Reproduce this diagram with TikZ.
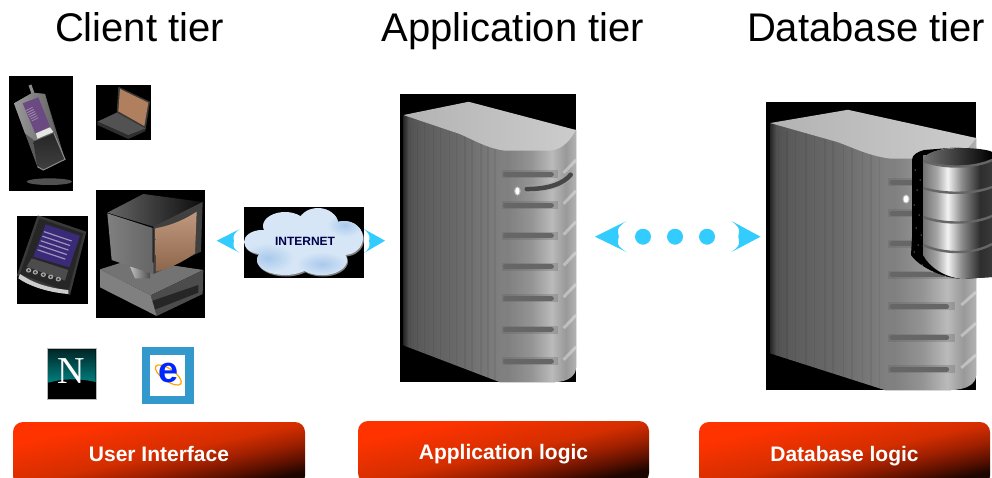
\documentclass[tikz,border=0pt]{standalone}
\usepackage{fontspec}
\setmainfont{Liberation Sans}
\newfontfamily\serifN{Liberation Serif}
\definecolor{rA}{HTML}{FF3300}
\definecolor{rB}{HTML}{D42E00}
\definecolor{rC}{HTML}{A02000}
\definecolor{rE}{HTML}{5A1000}
\definecolor{rD}{HTML}{1E0600}
\pgfdeclarehorizontalshading{redgrad}{100bp}{color(0bp)=(rA); color(30bp)=(rA); color(50bp)=(rB); color(58.5bp)=(rC); color(67bp)=(rE); color(73bp)=(rD); color(100bp)=(rD)}
\pgfdeclarehorizontalshading{srvbody}{100bp}{color(0bp)=(black!85); color(25bp)=(black!85); color(26.5bp)=(black!68); color(30bp)=(black!64); color(42bp)=(black!58); color(53bp)=(black!50); color(55bp)=(black!50); color(62bp)=(black!42); color(68bp)=(black!27); color(72bp)=(black!40); color(75bp)=(black!30); color(100bp)=(black!30)}
\pgfdeclarehorizontalshading{cylgrad}{100bp}{color(0bp)=(black!55); color(25bp)=(black!55); color(34bp)=(black!35); color(41bp)=(black!5); color(50bp)=(black!45); color(62bp)=(black!82); color(75bp)=(black!75); color(100bp)=(black!75)}
\definecolor{arrowblue}{HTML}{33CCFF}
\definecolor{tanscreen}{HTML}{B07F5E}
\definecolor{cloudbase}{HTML}{D6E6F6}
\definecolor{cloudblot}{HTML}{A9C9EC}
\definecolor{ieblue}{HTML}{3399CC}
\definecolor{pdascreen}{HTML}{3B2A78}
\definecolor{phonescreen}{HTML}{6A4A80}
\tikzset{
  tierhead/.style={font=\fontsize{40}{44}\selectfont,inner sep=0pt,anchor=base},
  redbox/.style={draw=none,rounded corners=10pt,shading=redgrad,shading angle=-78,minimum height=64pt,text=white,font=\fontsize{21}{24}\bfseries\selectfont,inner sep=0pt,text height=14pt,text depth=0pt},
  blackbg/.style={fill=black,draw=none},
  flowtip/.style={fill=arrowblue,draw=none},
  zoomone/.style={shift={(0,70)},x=.33333pt,y=-.33333pt}
}
\newcommand{\serverbody}[5]{%
\fill[black] (#1,#2) rectangle ++(#3,#4);
\begin{scope}
\clip (#1,#2) rectangle ++(#3,#4);
\begin{scope}[shift={(#1,#2)},x=#3pt,y=-#4pt]
\fill[shading=srvbody,shading angle=0] (.02,.073) -- (.02,.873) -- (.565,1) -- (.88,1) .. controls (.95,1) and (1,.98) .. (1,.95) -- (1,.125) -- cycle;
\foreach \u in {.06,.1,.14,.19,.23,.28,.32,.37,.41,.46,.5,.54}{\draw[black,opacity=.06,line width=1.5pt] (\u,.1) -- (\u,1);}
\shade[left color=black!30,right color=black!20] (.02,.073) -- (.39,.027) -- (1,.125) .. controls (.95,.18) and (.9,.197) .. (.83,.197) -- (.6,.197) .. controls (.5,.19) and (.42,.16) .. (.34,.139) -- cycle;
\foreach \v in {.279,.386,.493,.60,.71,.818,.928}{%
  \draw[black!62,line width=8pt,opacity=.3] (.58,\v) -- (.9,\v);
  \draw[black!60,line width=5pt,line cap=round] (.6,\v) -- (.86,\v);
  \draw[white,line width=3pt,opacity=.35] (.93,\v-.005) -- (1,\v-.05);
}
\draw[white,opacity=.4,line width=3pt] (.667,.337) circle[radius=.01];
\fill[white] (.667,.337) circle[radius=.012];
#5
\end{scope}
\end{scope}}
\begin{document}
\begin{tikzpicture}[x=1pt,y=-1pt]
\useasboundingbox (0,0) rectangle (992,477);
\clip (0,0) rectangle (992,477);
% headings
\node[tierhead] (hclient) at (139.5,41) {Client tier};
\node[tierhead] (happ) at (513,41) {Application tier};
\node[tierhead] (hdb) at (866,41) {Database tier};
% servers
\serverbody{400}{94}{176}{288}{\draw[black!35,line width=7pt,opacity=.5] (.72,.33) .. controls (.85,.33) and (.93,.31) .. (.97,.28);\draw[black!72,line width=4.5pt,line cap=round] (.72,.33) .. controls (.85,.33) and (.93,.31) .. (.97,.28);}
\serverbody{766}{102}{210}{288}{}
% cylinder
\fill[black] (924,150) .. controls (917,152) and (912,155) .. (912,160) -- (912,237) -- (911,255) .. controls (920,268) and (945,279) .. (965,279) -- (923,255) -- (923,160) .. controls (930,150) and (945,148) .. (962,147) -- cycle;
\foreach \p/\q in {915/170,917/190,914/205,919/215,916/228,918/245,914/252,922/265,932/272,945/276,920/180,921/235}{\fill[white] (\p,\q) circle[radius=.5];}
\begin{scope}
\clip (923,155) -- (923,255) .. controls (930,268) and (945,277) .. (962,279) -- (992,277) -- (992,155) -- cycle;
\fill[shading=cylgrad,shading angle=0] (923,150) rectangle (1000,285);
\end{scope}
\shade[left color=black!55,right color=black!100] (923,160) .. controls (925,151) and (945,148) .. (962,148) .. controls (975,148) and (990,150) .. (992,152) -- (992,160) .. controls (975,168) and (938,170) .. (923,160) -- cycle;
\foreach \a/\b in {161/167,188/193,217/223,245/253}{\draw[black!60,line width=2.4pt] (923,\a) .. controls (945,\b+2) and (975,\b+1) .. (992,\a-1);}
% central arrows and dots
\fill[flowtip] (595,236.7) -- (626.5,221) .. controls (620,225) and (617,229) .. (618,232) .. controls (619,235) and (619,238) .. (618,241) .. controls (617,245) and (620,248) .. (626.5,252) -- cycle;
\fill[flowtip] (760.5,236.7) -- (731.5,221) .. controls (737,225) and (740,229) .. (739,232) .. controls (738,235) and (738,238) .. (739,241) .. controls (740,245) and (737,248) .. (731.5,252) -- cycle;
\fill[arrowblue] (643,236.7) circle[radius=8];
\fill[arrowblue] (675,236.7) circle[radius=8];
\fill[arrowblue] (707,236.7) circle[radius=8];
% small arrows
\fill[flowtip] (216.7,240.7) -- (239.3,229.3) .. controls (235,232) and (233,236) .. (233.5,238) .. controls (234,240) and (234,242) .. (233.5,244) .. controls (233,247) and (235,250) .. (239.3,252.7) -- cycle;
\fill[flowtip] (385,240.7) -- (364,229) .. controls (368,232) and (370,236) .. (369.5,238) .. controls (369,240) and (369,242) .. (369.5,244) .. controls (370,247) and (368,250) .. (364,253) -- cycle;
% cloud
\fill[blackbg] (244,207) rectangle (364,278);
\def\cloudpath{(262,242) ellipse[x radius=18,y radius=12] (285,226) ellipse[x radius=22,y radius=14] (318,224) ellipse[x radius=20,y radius=16] (344,238) ellipse[x radius=19,y radius=17] (322,260) ellipse[x radius=25,y radius=15] (285,260) ellipse[x radius=28,y radius=15] (305,240) ellipse[x radius=40,y radius=22]}
\fill[black!50,shift={(1,1.5)}] \cloudpath;
\begin{scope}
\clip \cloudpath;
\fill[cloudbase] (244,207) rectangle (364,278);
\shade[inner color=cloudblot,outer color=cloudbase] (268,258) ellipse[x radius=26,y radius=15];
\shade[inner color=cloudblot,outer color=cloudbase] (322,264) ellipse[x radius=26,y radius=12];
\shade[inner color=cloudblot,outer color=cloudbase] (345,225) ellipse[x radius=18,y radius=12];
\end{scope}
\node[font=\fontsize{12}{13}\bfseries\selectfont,text=blue!30!black,inner sep=0pt] (inet) at (305,241.5) {INTERNET};
% client devices, in zoom-one coordinates
\begin{scope}[zoomone]
% phone
\fill[blackbg] (27,18) rectangle (219,362);
\draw[black!45,line width=3pt] (90,45) -- (104,85);
\fill[black!65] (42,100) -- (98,68) -- (135,72) -- (195,268) -- (130,300) -- (112,290) -- cycle;
\shade[left color=black!40,right color=black!60] (42,100) -- (98,68) -- (135,72) -- (165,185) -- (105,212) -- (75,190) -- cycle;
\shade[top color=black!85,bottom color=black!75] (100,215) -- (162,190) -- (195,268) -- (130,300) -- (112,290) -- cycle;
\draw[black!45,line width=1pt] (162,190) -- (195,268) -- (130,300) -- (112,290);
\fill[phonescreen] (68,100) -- (115,82) -- (150,170) -- (106,190) -- cycle;
\foreach \t in {0,.1,.2,.3,.4,.5}{\draw[white,opacity=.35,line width=.8pt] (78+\t*34,122+\t*62) -- (98+\t*34,112+\t*62);}
\fill[black!10] (108,190) -- (150,172) -- (160,186) -- (112,206) -- cycle;
\fill[black!60,opacity=.8] (148,335) ellipse[x radius=68,y radius=10];
% laptop
\fill[blackbg] (288,45) rectangle (453,210);
\fill[black!78] (355,50) -- (450,95) -- (437,178) -- (350,130) -- cycle;
\fill[tanscreen] (360,57) -- (445,98) -- (433,168) -- (355,124) -- cycle;
\fill[black!68] (292,155) -- (350,128) -- (437,176) -- (385,196) -- cycle;
\fill[black!82] (292,155) -- (385,196) -- (437,176) -- (435,184) -- (385,207) -- (292,165) -- cycle;
% pda
\fill[blackbg] (51,438) rectangle (264,702);
\draw[black!55,line width=5pt,opacity=.5] (118,445) -- (250,490) -- (205,665) -- (60,612) -- cycle;
\fill[black!85] (118,445) -- (250,490) -- (205,665) -- (60,612) -- cycle;
\fill[pdascreen] (137,463) -- (240,497) -- (208,592) -- (100,560) -- cycle;
\foreach \t in {0,.16,.32,.48,.64}{\draw[white,opacity=.5,line width=1.2pt] (132+\t*-30,485+\t*85) -- (215+\t*-30,513+\t*85);}
\fill[black!70] (95,565) -- (205,600) -- (195,632) -- (80,590) -- cycle;
\fill[black!20] (60,612) .. controls (100,640) and (150,655) .. (205,660) -- (205,672) .. controls (150,668) and (90,650) .. (55,625) -- cycle;
\foreach \x in {86,106,130,152,175}{\fill[black!35] (\x,575+\x*.3) ellipse[x radius=8,y radius=7];\fill[black!80] (\x,575+\x*.3) circle[radius=3.5];}
% pc
\fill[blackbg] (288,360) rectangle (615,744);
\fill[black!55] (300,598) -- (395,568) -- (610,600) -- (452,676) -- cycle;
\fill[black!70] (452,676) -- (610,600) -- (608,672) -- (470,738) -- cycle;
\fill[black!85] (458,692) -- (595,645) -- (595,668) -- (462,720) -- cycle;
\fill[black!50] (300,598) -- (452,676) -- (470,738) -- (300,652) -- cycle;
\shade[left color=black!25,right color=black!70] (390,590) -- (450,600) -- (450,625) -- (405,625) -- cycle;
\shade[left color=black!50,right color=black!60] (322,430) -- (458,474) -- (458,612) -- (335,570) -- cycle;
\shade[left color=black!60,right color=black!95] (322,428) -- (430,372) -- (608,396) -- (590,425) -- (460,470) -- cycle;
\fill[black!75] (460,470) -- (608,396) -- (603,545) -- (460,612) -- cycle;
\shade[top color=tanscreen!80!white,bottom color=tanscreen!80!black] (466,475) .. controls (520,465) and (560,445) .. (590,425) -- (585,550) .. controls (550,575) and (510,595) .. (468,605) -- cycle;
% netscape
\fill[black,draw=black!28,line width=1.2pt] (143,836) rectangle (289,988);
\shade[top color=black!85!cyan,bottom color=cyan!50!black] (145,838) -- (287,838) -- (287,936) .. controls (240,925) and (190,925) .. (145,938) -- cycle;
\node[font=\fontsize{38}{40}\serifN\selectfont,text=white,inner sep=0pt] (nlogo) at (215,903) {N};
% explorer
\fill[ieblue] (426,831) rectangle (582,1002);
\fill[white] (450,855) rectangle (556,977);
\draw[orange!70!yellow,line width=1.2pt,rotate around={-35:(505,915)}] (505,915) ellipse[x radius=46,y radius=18];
\node[font=\fontsize{36}{38}\bfseries\selectfont,text=blue!85!cyan,inner sep=0pt] (elogo) at (505,910) {e};
\end{scope}
% tier bars
\node[redbox,minimum width=292pt] (ui) at (159,454) {User Interface};
\node[redbox,minimum width=291pt,minimum height=62pt] (logic) at (503.5,452) {Application logic};
\node[redbox,minimum width=291pt] (dblogic) at (844.5,454) {Database logic};
\end{tikzpicture}
\end{document}
